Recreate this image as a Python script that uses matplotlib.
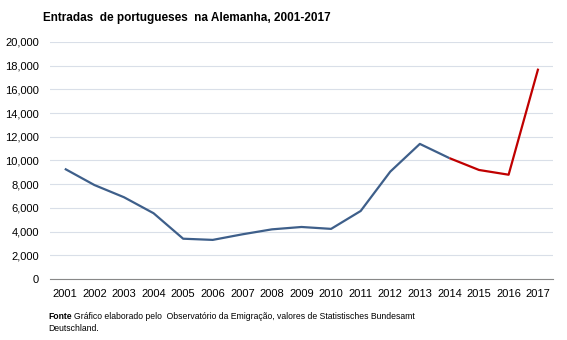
import matplotlib
matplotlib.use("Agg")
import matplotlib.pyplot as plt
from matplotlib.ticker import FuncFormatter

years = list(range(2001, 2018))
values = [9300, 7930, 6900, 5550, 3400, 3300, 3770, 4190, 4390, 4230,
          5740, 9060, 11400, 10200, 9200, 8800, 17750]
split_year = 2014
yticks = list(range(0, 20001, 2000))

plt.rcParams['font.family'] = ['Liberation Sans', 'DejaVu Sans']

fig = plt.figure(figsize=(5.67, 3.4), dpi=100)
ax = fig.add_axes([0.0882, 0.1794, 0.8871, 0.6971])

i = years.index(split_year)
ax.plot(years[:i + 1], values[:i + 1], color='#3E5F8A', lw=1.6, solid_capstyle='butt')
ax.plot(years[i:], values[i:], color='#C00000', lw=1.6, solid_capstyle='butt')

ax.set_xlim(2000.5, 2017.5)
ax.set_ylim(0, 20000)
ax.set_yticks(yticks)
ax.set_xticks(years)
ax.yaxis.set_major_formatter(FuncFormatter(lambda v, p: f"{int(v):,}"))
ax.grid(axis='y', color='#D9DFE8', lw=0.8)
ax.set_axisbelow(True)
for s in ['top', 'right', 'left']:
    ax.spines[s].set_visible(False)
ax.spines['bottom'].set_color('#888888')
ax.spines['bottom'].set_linewidth(0.8)
ax.tick_params(axis='both', length=0, labelsize=8, colors='#000000')
ax.tick_params(axis='y', pad=8)
ax.tick_params(axis='x', pad=7)

fig.text(0.076, 0.948, "Entradas  de portugueses  na Alemanha, 2001-2017",
         fontsize=8.5, fontweight='bold', ha='left', va='center')

fig.text(0.085, 0.07, "Fonte", fontsize=6.2, fontweight='bold', ha='left', va='center')
fig.text(0.131, 0.07, "Gráfico elaborado pelo  Observatório da Emigração, valores de Statistisches Bundesamt",
         fontsize=6.2, ha='left', va='center')
fig.text(0.085, 0.035, "Deutschland.", fontsize=6.2, ha='left', va='center')

fig.savefig("out.png", dpi=100)
